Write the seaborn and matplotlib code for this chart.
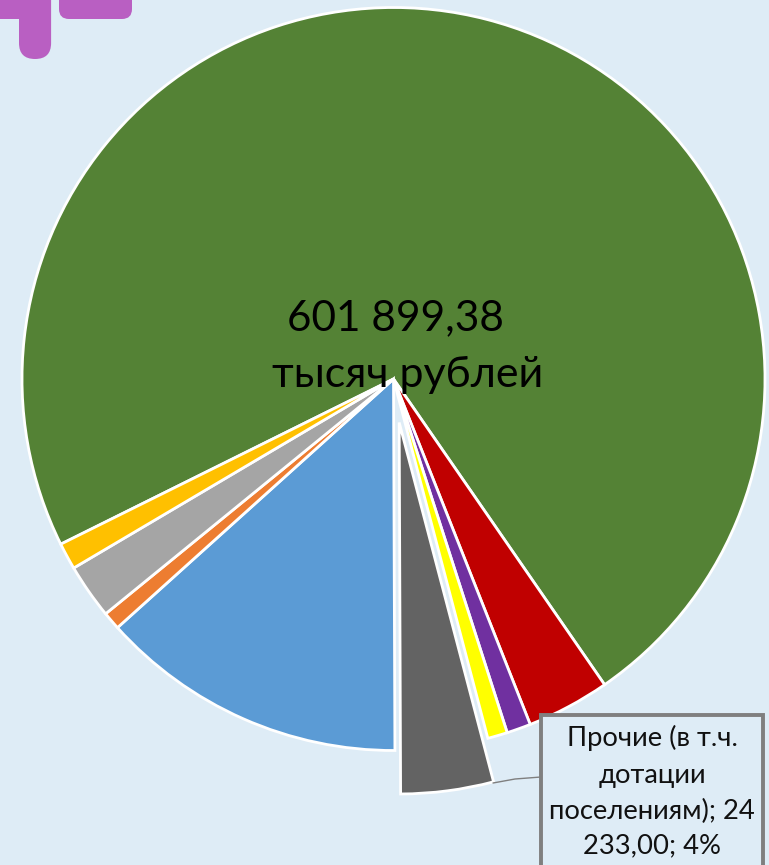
#!/usr/bin/env python3
# -*- coding: utf-8 -*-
import matplotlib
matplotlib.use('Agg')
import matplotlib.pyplot as plt
from matplotlib.patches import FancyBboxPatch, Rectangle
import seaborn as sns

# budget items, clockwise from the big green slice (thousand roubles)
values = [437666, 21800, 6300, 5200, 24233, 80600, 4700, 14400, 7000]
colors = ['#548235', '#C00000', '#7030A0', '#FFFF00', '#636363',
          '#5B9BD5', '#ED7D31', '#A5A5A5', '#FFC000']
explode = [0, 0, 0, 0, 0.118, 0, 0, 0, 0]
total_label = '601 899,38'
unit_label = 'тысяч рублей'
callout_lines = ['Прочие (в т.ч.', 'дотации', 'поселениям); 24', '233,00; 4%']

BG = '#DEECF6'
LOGO = '#B95FC2'
W, H = 769, 865
CX, CY, R = 393.5, 379, 371.5

sns.set_theme(style='white')
plt.rcParams['font.family'] = ['Lato', 'Noto Sans', 'DejaVu Sans']

fig = plt.figure(figsize=(W / 100, H / 100), dpi=100, facecolor=BG)
ax = fig.add_axes([0, 0, 1, 1])
ax.pie(values, colors=sns.color_palette(colors), explode=explode,
       startangle=-153.6, counterclock=False,
       wedgeprops={'edgecolor': 'white', 'linewidth': 2.0})
ax.set_xlim(-CX / R, (W - CX) / R)
ax.set_ylim(-(H - CY) / R, CY / R)

# overlay in image pixels for logo, captions and the callout
ov = fig.add_axes([0, 0, 1, 1], facecolor='none')
ov.set_xlim(0, W)
ov.set_ylim(H, 0)
ov.axis('off')

# corner of the logo
ov.add_patch(Rectangle((0, -5), 40, 24, fc=LOGO, ec='none'))
ov.add_patch(FancyBboxPatch((35, -20), 0.1, 63, boxstyle='round,pad=16,rounding_size=16',
                            fc=LOGO, ec='none'))
ov.add_patch(FancyBboxPatch((69, -30), 53, 39, boxstyle='round,pad=10,rounding_size=10',
                            fc=LOGO, ec='none'))

ov.text(395.5, 330, total_label, fontsize=30.5, color='black', ha='center', va='baseline')
ov.text(407.5, 387, unit_label, fontsize=31, color='black', ha='center', va='baseline')

# callout with leader line
ov.plot([493, 515, 541], [783, 779, 777], color='#7F7F7F', lw=1)
ov.add_patch(Rectangle((541, 715), 222, 170, fc=BG, ec='#7F7F7F', lw=2.8))
for y, line in zip([738, 775, 811, 846], callout_lines):
    ov.text(652, y, line, fontsize=19.7, color='#111111', ha='center', va='center')

fig.savefig('out.png', dpi=100, facecolor=BG)
